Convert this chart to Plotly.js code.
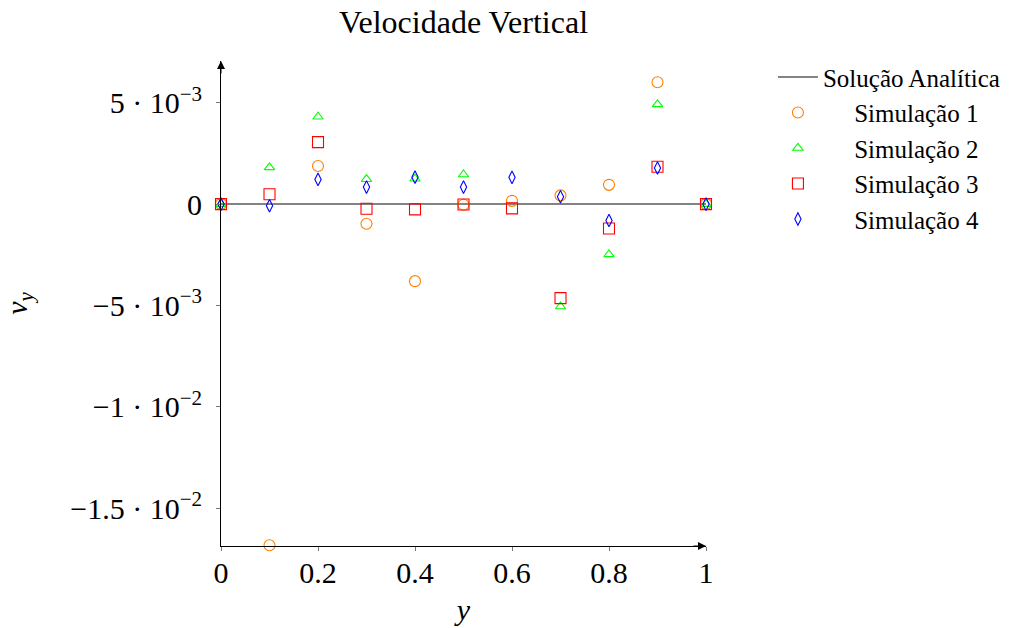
<!DOCTYPE html>
<html>
<head>
<meta charset="utf-8">
<script src="https://cdn.plot.ly/plotly-3.0.1.min.js"></script>
<style>html,body{margin:0;padding:0;background:#fff;}#chart{width:1031px;height:628px;}</style>
</head>
<body>
<div id="chart"></div>
<script>
const xs = [0, 0.1, 0.2, 0.3, 0.4, 0.5, 0.6, 0.7, 0.8, 0.9, 1.0];
const analitica = [0, 0, 0, 0, 0, 0, 0, 0, 0, 0, 0];
const sim1 = [0, -0.01683, 0.00188, -0.00097, -0.0038, -0.00003, 0.00016, 0.00043, 0.00095, 0.00601, 0];
const sim2 = [0, 0.00181, 0.00431, 0.00123, 0.00125, 0.00146, 0.00714, -0.00505, -0.00248, 0.00492, 0];
const sim3 = [0, 0.00049, 0.00306, -0.00023, -0.00026, -0.00002, -0.00021, -0.00464, -0.0012, 0.00184, 0];
const sim4 = [0, -0.00008, 0.00122, 0.00084, 0.00133, 0.00084, 0.00132, 0.00036, -0.00081, 0.00178, 0];
const seriesNames = ['Solução Analítica', 'Simulação 1', 'Simulação 2', 'Simulação 3', 'Simulação 4'];
const yTickVals = [0.005, 0, -0.005, -0.01, -0.015];
const yTickText = ['5 · 10<sup>−3</sup>', '0', '−5 · 10<sup>−3</sup>', '−1 · 10<sup>−2</sup>', '−1.5 · 10<sup>−2</sup>'];
const xTickVals = [0, 0.2, 0.4, 0.6, 0.8, 1];
const xTickText = ['0', '0.2', '0.4', '0.6', '0.8', '1'];

const FONT = "'Liberation Serif', 'Times New Roman', serif";
const pad = '\u00a0\u00a0\u00a0\u00a0\u00a0';
const traces = [
  {x: xs, y: analitica, mode: 'lines', name: seriesNames[0], line: {color: '#5a5a5a', width: 1.5}, cliponaxis: false},
  {x: xs, y: sim1, mode: 'markers', name: pad + seriesNames[1], cliponaxis: false,
   marker: {symbol: 'circle-open', size: 11, color: 'rgb(255,128,0)', line: {width: 1.1}}},
  {x: xs, y: sim2, mode: 'markers', name: pad + seriesNames[2], cliponaxis: false,
   marker: {symbol: 'triangle-up-open', size: 9, color: 'rgb(0,255,0)', line: {width: 1.1}}},
  {x: xs, y: sim3, mode: 'markers', name: pad + seriesNames[3], cliponaxis: false,
   marker: {symbol: 'square-open', size: 11, color: 'rgb(255,0,0)', line: {width: 1.1}}},
  {x: xs, y: sim4, mode: 'markers', name: pad + seriesNames[4], cliponaxis: false,
   marker: {symbol: 'diamond-tall-open', size: 9, color: 'rgb(0,0,255)', line: {width: 1.1}}}
];

const yRange = [-0.016866, 0.00706];
const layout = {
  width: 1031, height: 628,
  margin: {l: 221, r: 325, t: 61, b: 82},
  paper_bgcolor: '#fff', plot_bgcolor: '#fff',
  font: {family: FONT, size: 26, color: '#000'},
  title: {text: 'Velocidade Vertical', x: 0.5, xref: 'paper', xanchor: 'center', y: 1 - 22/628, yanchor: 'middle', font: {family: FONT, size: 32}},
  xaxis: {range: [0, 1], tickvals: xTickVals, ticktext: xTickText, showgrid: false, zeroline: false,
          showline: true, linecolor: '#000', linewidth: 1, ticks: 'outside', ticklen: 4, tickcolor: '#777',
          tickfont: {family: FONT, size: 30}, fixedrange: true, ticklabelstandoff: -4,
          title: {text: '<i>y</i>', font: {family: FONT, size: 30}, standoff: 10}},
  yaxis: {range: yRange, tickvals: yTickVals, ticktext: yTickText, showgrid: false, zeroline: false,
          showline: true, linecolor: '#000', linewidth: 1, ticks: 'outside', ticklen: 4, tickcolor: '#777',
          tickfont: {family: FONT, size: 30}, fixedrange: true, ticklabelstandoff: 8,
          title: {text: '<i>v<sub>y</sub></i>', font: {family: FONT, size: 30}, standoff: 38}},
  xaxis2: {range: [0, 1], overlaying: 'x', anchor: 'y', tickvals: xTickVals, showticklabels: false,
           showgrid: false, zeroline: false, showline: false, ticks: 'inside', ticklen: 4, tickcolor: '#777', side: 'bottom'},
  yaxis2: {range: yRange, overlaying: 'y', anchor: 'x', tickvals: yTickVals, showticklabels: false,
           showgrid: false, zeroline: false, showline: false, ticks: 'inside', ticklen: 4, tickcolor: '#777', side: 'left'},
  showlegend: true,
  legend: {x: 1.138, xanchor: 'left', y: 1.014, yanchor: 'top', bgcolor: 'rgba(0,0,0,0)',
           font: {family: FONT, size: 25}, tracegroupgap: 0, itemwidth: 40},
  annotations: [
    {x: 1, y: 0, xref: 'x', yref: 'paper', ax: -14, ay: 0, axref: 'pixel', ayref: 'pixel', text: '',
     showarrow: true, arrowhead: 2, arrowsize: 1.6, arrowwidth: 1, arrowcolor: '#000'},
    {x: 0, y: 1, xref: 'x', yref: 'paper', ax: 0, ay: 14, text: '',
     showarrow: true, arrowhead: 2, arrowsize: 1.6, arrowwidth: 1, arrowcolor: '#000'}
  ]
};
Plotly.newPlot('chart', traces, layout, {displayModeBar: false, staticPlot: true});
</script>
</body>
</html>
